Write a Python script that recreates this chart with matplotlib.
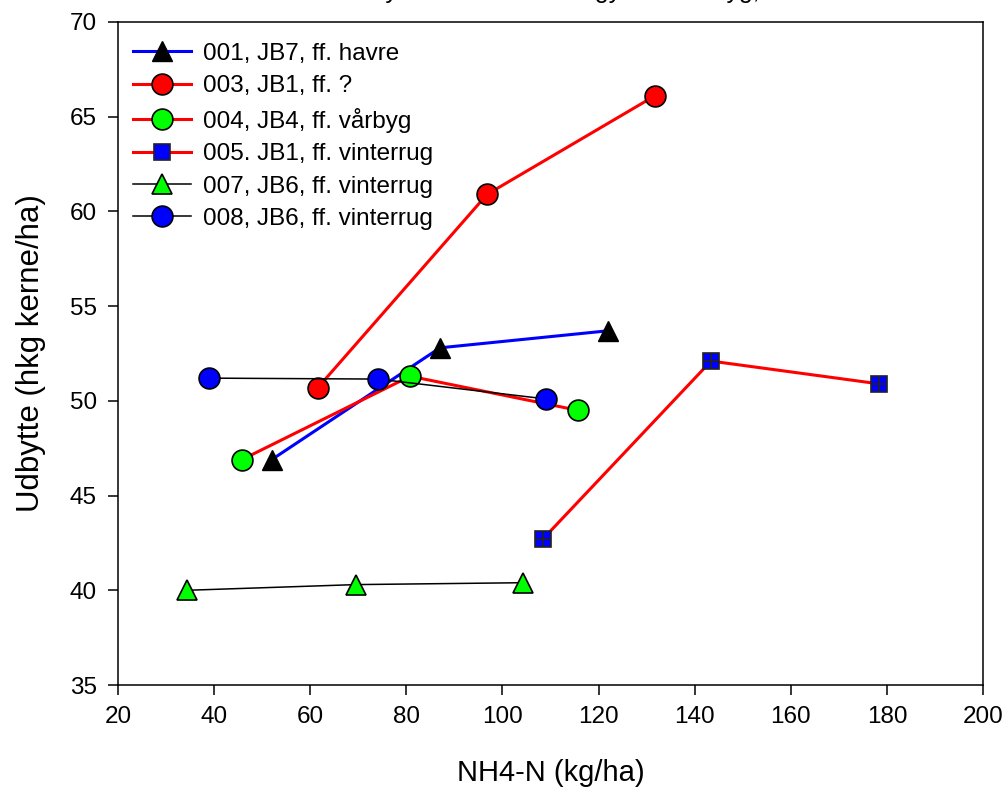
import matplotlib
matplotlib.use("Agg")
import matplotlib.pyplot as plt

plt.rcParams['font.family'] = ['Liberation Sans', 'DejaVu Sans']

# data
x001 = [52, 87, 122]
y001 = [46.9, 52.8, 53.7]
x003 = [61.6, 96.8, 131.7]
y003 = [50.7, 60.9, 66.1]
x004 = [45.8, 80.8, 115.7]
y004 = [46.9, 51.3, 49.5]
x005 = [108.4, 143.4, 178.3]
y005 = [42.7, 52.1, 50.9]
x007 = [34.4, 69.5, 104.3]
y007 = [40.0, 40.3, 40.4]
x008 = [38.9, 74.1, 109.1]
y008 = [51.2, 51.15, 50.1]

labels = ['001, JB7, ff. havre', '003, JB1, ff. ?', '004, JB4, ff. vårbyg',
          '005. JB1, ff. vinterrug', '007, JB6, ff. vinterrug', '008, JB6, ff. vinterrug']
title = 'Kerneudbytte ved tilførsel af gylle til vårbyg, 2004'

fig = plt.figure(figsize=(10.07, 7.91), dpi=100)
ax = fig.add_axes([118/1007, 1 - 685/791, 865/1007, 663/791])

ms = 15
lw_c = 2.2
lw_k = 1.1
h1, = ax.plot(x001, y001, color='blue', lw=lw_c, marker='^', ms=ms, mfc='black', mec='black', label=labels[0])
h3, = ax.plot(x003, y003, color='red', lw=lw_c, marker='o', ms=ms, mfc='red', mec='black', mew=1.2, label=labels[1])
h4, = ax.plot(x004, y004, color='red', lw=lw_c, marker='o', ms=ms, mfc='#00ff00', mec='black', mew=1.2, label=labels[2])
h5, = ax.plot(x005, y005, color='red', lw=lw_c, marker='s', ms=12, mfc='blue', mec='#222222', mew=1.2, label=labels[3])
ax.plot(x005, y005, ls='none', marker='+', ms=12, mec='#222222', mew=1.2)
h7, = ax.plot(x007, y007, color='black', lw=lw_k, marker='^', ms=ms, mfc='#00ff00', mec='black', mew=1.2, label=labels[4])
h8, = ax.plot(x008, y008, color='black', lw=lw_k, marker='o', ms=ms, mfc='blue', mec='black', mew=1.2, label=labels[5])

ax.set_xlim(20, 200)
ax.set_ylim(35, 70)
ax.set_xticks(range(20, 201, 20))
ax.set_yticks(range(35, 71, 5))
ax.tick_params(direction='out', length=7.2, width=1.1, labelsize=17.5, pad=8)
for s in ax.spines.values():
    s.set_linewidth(1.1)

ax.set_xlabel('NH4-N (kg/ha)', fontsize=21)
ax.set_ylabel('Udbytte (hkg kerne/ha)', fontsize=22.5)
ax.xaxis.set_label_coords(0.5, (685 - 759) / 663)
ax.yaxis.set_label_coords((46 - 118) / 865, 0.5)

ax.legend(handles=[h1, h3, h4, h5, h7, h8], loc='upper left', frameon=False,
          fontsize=17.5, handlelength=2.4, handletextpad=0.5, labelspacing=0.43,
          borderaxespad=0.45, bbox_to_anchor=(-6/865, 1.0))

# title sits mostly above the top edge, only its descenders show
fig.text(550/1007, 1 + 2/791, title, ha='center', va='baseline', fontsize=18)

fig.savefig('out.png', dpi=100)
